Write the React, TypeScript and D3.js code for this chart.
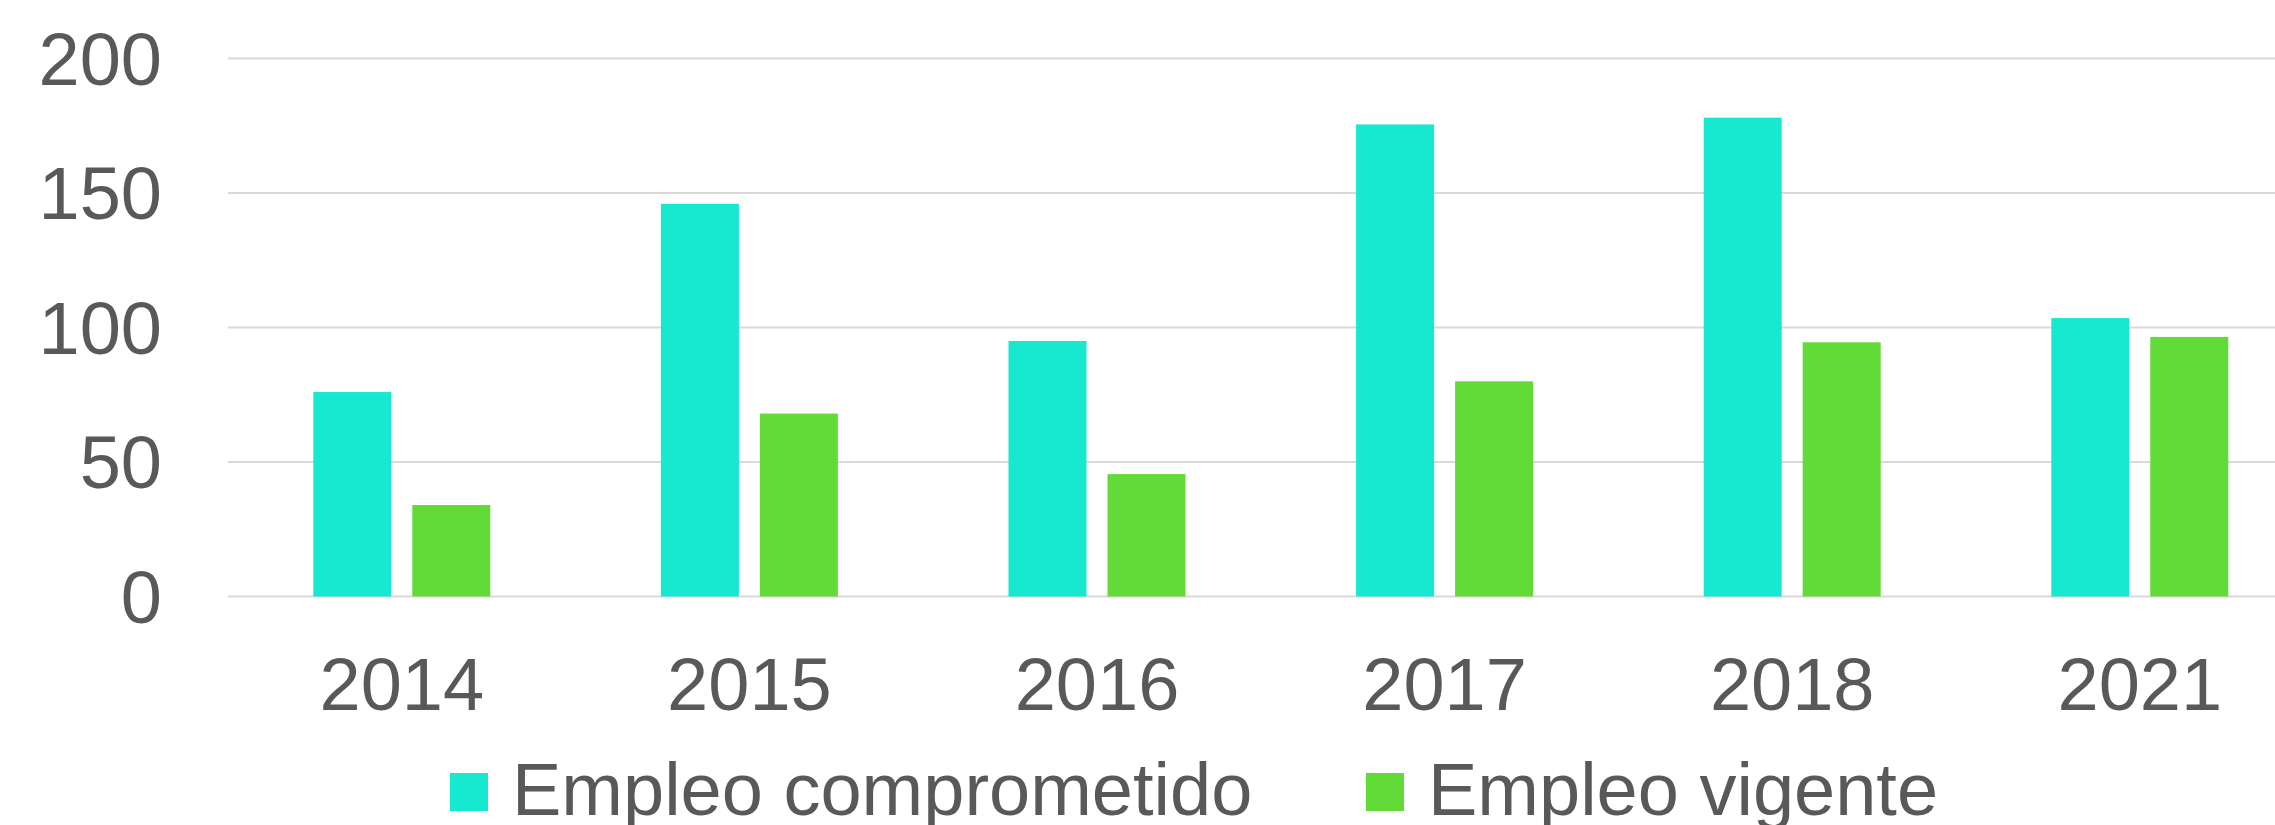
import React from "react";
import * as d3 from "d3";

const categories = ["2014", "2015", "2016", "2017", "2018", "2021"];
const seriesNames = ["Empleo comprometido", "Empleo vigente"];
const comprometido = [76, 146, 95, 175.5, 178, 103.5];
const vigente = [34, 68, 45.5, 80, 94.5, 96.5];
const yTicks = [0, 50, 100, 150, 200];
const colors = ["#17E8D0", "#62DA37"];

const W = 2275;
const H = 825;
const FONT = "'Liberation Sans', Arial, Helvetica, sans-serif";
const TEXT = "#595959";
const FS = 74;

export default function App() {
  const plotLeft = 228;
  const plotRight = 2313.6;
  const y = d3.scaleLinear().domain([0, 200]).range([596.5, 58.5]);
  const x = d3.scaleBand<string>().domain(categories).range([plotLeft, plotRight]).padding(0);
  const groupW = 177;
  const xs = d3
    .scaleBand<string>()
    .domain(seriesNames)
    .range([0, groupW])
    .paddingInner(0.2121)
    .paddingOuter(0);
  const data = [comprometido, vigente];

  const legendItems = [
    { name: seriesNames[0], color: colors[0], x: 450 },
    { name: seriesNames[1], color: colors[1], x: 1366 },
  ];

  return (
    <svg
      width={W}
      height={H}
      style={{ position: "absolute", left: 0, top: 0, background: "#fff" }}
      fontFamily={FONT}
    >
      <rect x={0} y={0} width={W} height={H} fill="#fff" />
      {yTicks.map((t) => (
        <g key={t}>
          <line x1={plotLeft} x2={plotRight} y1={y(t)} y2={y(t)} stroke="#D9D9D9" strokeWidth={1.8} />
          <text x={162} y={y(t) + 26} textAnchor="end" fontSize={FS} fill={TEXT}>
            {t}
          </text>
        </g>
      ))}
      {categories.map((c, i) => {
        const cx = (x(c) as number) + x.bandwidth() / 2;
        const gx = cx - groupW / 2;
        return (
          <g key={c}>
            {seriesNames.map((s, si) => {
              const v = data[si][i];
              return (
                <rect
                  key={s}
                  x={gx + (xs(s) as number)}
                  y={y(v)}
                  width={xs.bandwidth()}
                  height={y(0) - y(v)}
                  fill={colors[si]}
                />
              );
            })}
            <text x={cx} y={710} textAnchor="middle" fontSize={FS} fill={TEXT}>
              {c}
            </text>
          </g>
        );
      })}
      {legendItems.map((l) => (
        <g key={l.name}>
          <rect x={l.x} y={773} width={38} height={38} fill={l.color} />
          <text x={l.x + 62} y={815} fontSize={FS} fill={TEXT}>
            {l.name}
          </text>
        </g>
      ))}
    </svg>
  );
}
